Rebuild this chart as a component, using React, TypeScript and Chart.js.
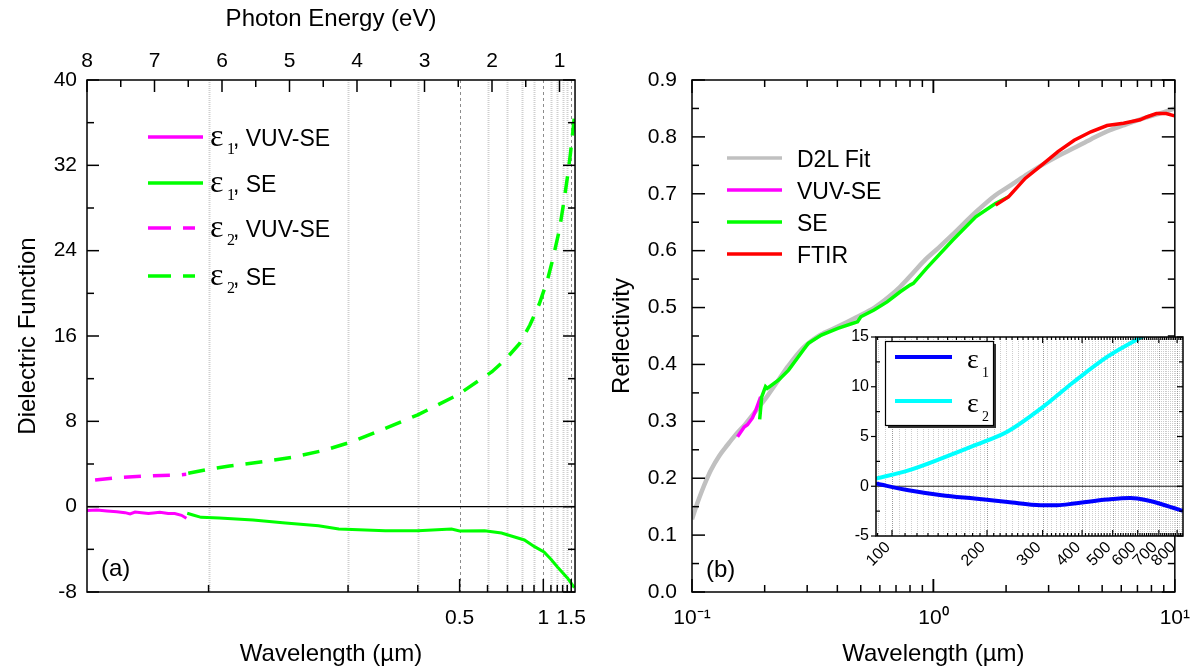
import React, { useEffect, useRef } from "react";
import { Chart, registerables } from "chart.js";

Chart.register(...registerables);
Chart.defaults.font.family = '"Liberation Sans", Arial, sans-serif';
Chart.defaults.color = "#000";

const HC = 1.2398; // eV * µm

// ---------- Panel (a): photon energy (eV) vs dielectric function ----------
const E_MIN = 0.77;
const E_MAX = 8;
const e1VuvEnergy = [8.0, 7.853, 7.705, 7.558, 7.436, 7.362, 7.288, 7.19, 7.09, 7.018, 6.92, 6.797, 6.7, 6.6, 6.527];
const e1VuvValue = [-0.37, -0.31, -0.4, -0.47, -0.56, -0.68, -0.5, -0.56, -0.65, -0.59, -0.53, -0.65, -0.65, -0.81, -1.09];
const e1SeEnergy = [6.515, 6.43, 6.31, 6.04, 5.54, 5.06, 4.57, 4.27, 4.07, 3.58, 3.1, 2.6, 2.48, 2.11, 1.86, 1.52, 1.37, 1.23, 1.13, 1.03, 0.88, 0.78];
const e1SeValue = [-0.62, -0.78, -1.0, -1.06, -1.25, -1.53, -1.78, -2.09, -2.15, -2.25, -2.25, -2.09, -2.28, -2.25, -2.47, -3.12, -3.75, -4.25, -4.9, -5.65, -6.7, -7.6];
const e2VuvEnergy = [7.88, 7.51, 7.02, 6.63, 6.53];
const e2VuvValue = [2.5, 2.75, 2.91, 2.97, 3.03];
const e2SeEnergy = [6.5, 6.2, 5.89, 5.39, 4.95, 4.47, 4.07, 3.58, 3.1, 2.51, 2.2, 2.0, 1.8, 1.59, 1.44, 1.3, 1.18, 1.1, 1.0, 0.93, 0.88, 0.84, 0.8, 0.77];
const e2SeValue = [3.13, 3.5, 3.81, 4.22, 4.63, 5.31, 6.09, 7.35, 8.6, 10.47, 11.8, 12.65, 13.8, 15.3, 17.0, 19.0, 21.2, 23.2, 26.0, 28.8, 31.0, 33.0, 35.3, 37.2];

const EV_TICKS = [1, 2, 3, 4, 5, 6, 7, 8];
const EPS_TICKS = [-8, 0, 8, 16, 24, 32, 40];
const WL_GRID = [0.2, 0.3, 0.4, 0.5, 0.6, 0.7, 0.8, 0.9, 1.0, 1.1, 1.2, 1.3, 1.4, 1.5];
const WL_LABELED = [0.5, 1.0, 1.5];
const WL_LABEL_TEXT = ["0.5", "1", "1.5"];

// ---------- Panel (b): wavelength (µm) vs reflectivity ----------
const fitWl = [0.1, 0.105, 0.11, 0.115, 0.12, 0.13, 0.14, 0.15, 0.167, 0.19, 0.2, 0.23, 0.25, 0.29, 0.34, 0.4, 0.48, 0.57, 0.65, 0.73, 0.82, 0.93, 1.05, 1.2, 1.5, 1.8, 2.04, 2.4, 2.8, 3.3, 3.8, 4.5, 5.2, 6.1, 7.1, 8.5, 10];
const fitR = [0.128, 0.155, 0.178, 0.198, 0.215, 0.24, 0.258, 0.274, 0.296, 0.326, 0.338, 0.375, 0.397, 0.43, 0.452, 0.466, 0.483, 0.5, 0.518, 0.537, 0.56, 0.585, 0.605, 0.628, 0.668, 0.697, 0.712, 0.732, 0.75, 0.767, 0.78, 0.796, 0.809, 0.82, 0.83, 0.84, 0.85];
const vuvWl = [0.1544, 0.1645, 0.1697, 0.178, 0.184, 0.1925];
const vuvR = [0.273, 0.29, 0.294, 0.306, 0.32, 0.343];
const seWl = [0.1907, 0.1944, 0.2016, 0.2048, 0.2287, 0.2512, 0.2892, 0.3031, 0.3435, 0.4018, 0.4851, 0.5003, 0.5674, 0.6431, 0.7287, 0.8, 0.8262, 0.936, 1.2036, 1.498, 1.807, 2.048];
const seR = [0.3035, 0.343, 0.361, 0.358, 0.3726, 0.39, 0.4253, 0.437, 0.4517, 0.4634, 0.475, 0.4838, 0.4956, 0.51, 0.5278, 0.5395, 0.5425, 0.569, 0.6186, 0.6596, 0.683, 0.6947];
const ftirWl = [1.81, 2.05, 2.4, 2.8, 3.28, 3.83, 4.49, 5.24, 6.13, 7.18, 7.64, 8.39, 9.21, 9.97];
const ftirR = [0.68, 0.695, 0.727, 0.75, 0.774, 0.794, 0.809, 0.82, 0.824, 0.83, 0.835, 0.841, 0.841, 0.837];
const R_TICKS = [0, 0.1, 0.2, 0.3, 0.4, 0.5, 0.6, 0.7, 0.8, 0.9];
const WL_DECADES = [0.1, 1, 10];
const WL_DECADE_LABELS = ["10\u207B\u00B9", "10\u2070", "10\u00B9"];

// ---------- Inset: dielectric function ----------
const insetE1X = [89, 112.8, 143.6, 182.6, 232.5, 296, 334, 377, 480, 569, 641, 835];
const insetE1Y = [0.27, -0.4, -0.9, -1.24, -1.58, -1.9, -1.9, -1.74, -1.34, -1.18, -1.41, -2.48];
const insetE2X = [89, 112.8, 143.6, 182.6, 232.5, 296, 377, 480, 617, 660];
const insetE2Y = [0.77, 1.6, 2.8, 4.1, 5.5, 7.8, 10.5, 13.0, 15.0, 15.5];
const INSET_X_TICKS = [100, 200, 300, 400, 500, 600, 700, 800];
const INSET_Y_TICKS = [-5, 0, 5, 10, 15];

function pts(xs: number[], ys: number[]) {
  return xs.map((x, i) => ({ x, y: ys[i] }));
}

function lineDs(xs: number[], ys: number[], color: string, width: number, extra: any = {}) {
  return {
    data: pts(xs, ys),
    borderColor: color,
    backgroundColor: color,
    borderWidth: width,
    showLine: true,
    pointRadius: 0,
    pointHoverRadius: 0,
    fill: false,
    ...extra,
  };
}

function seg(ctx: CanvasRenderingContext2D, x1: number, y1: number, x2: number, y2: number) {
  ctx.beginPath();
  ctx.moveTo(x1, y1);
  ctx.lineTo(x2, y2);
  ctx.stroke();
}

const hiddenGrid = { display: false, drawTicks: false };

const panelAPlugin = {
  id: "panelA",
  beforeDatasetsDraw(chart: any) {
    const { ctx, chartArea: a } = chart;
    const xs = chart.scales.x;
    const ys = chart.scales.y;
    ctx.save();
    for (const wl of WL_GRID) {
      const px = Math.round(xs.getPixelForValue(HC / wl)) + 0.5;
      const strong = WL_LABELED.includes(wl);
      ctx.strokeStyle = strong ? "#8c8c8c" : "#cfcfcf";
      ctx.lineWidth = strong ? 1 : 2;
      ctx.setLineDash(strong ? [3, 3] : [1, 1]);
      seg(ctx, px, a.top, px, a.bottom);
    }
    ctx.setLineDash([]);
    ctx.strokeStyle = "#000";
    ctx.lineWidth = 1.2;
    const y0 = ys.getPixelForValue(0);
    seg(ctx, a.left, y0, a.right, y0);
    ctx.restore();
  },
  afterDatasetsDraw(chart: any) {
    const { ctx, chartArea: a } = chart;
    const xs = chart.scales.x;
    const ys = chart.scales.y;
    ctx.save();
    ctx.strokeStyle = "#000";
    ctx.lineWidth = 1.5;
    ctx.strokeRect(a.left, a.top, a.right - a.left, a.bottom - a.top);
    for (let v = -8; v <= 40; v += 4) {
      const py = ys.getPixelForValue(v);
      const L = v % 8 === 0 ? 12 : 7;
      seg(ctx, a.left, py, a.left + L, py);
      seg(ctx, a.right, py, a.right - L, py);
    }
    for (let e = 1; e <= 8; e += 0.5) {
      const px = xs.getPixelForValue(e);
      const L = Number.isInteger(e) ? 12 : 7;
      seg(ctx, px, a.top, px, a.top + L);
    }
    for (const wl of WL_GRID) {
      const px = xs.getPixelForValue(HC / wl);
      const L = WL_LABELED.includes(wl) ? 13 : 7;
      seg(ctx, px, a.bottom, px, a.bottom - L);
    }
    ctx.restore();
  },
};

const panelBPlugin = {
  id: "panelB",
  afterDatasetsDraw(chart: any) {
    const { ctx, chartArea: a } = chart;
    const xs = chart.scales.x;
    const ys = chart.scales.y;
    ctx.save();
    ctx.strokeStyle = "#000";
    ctx.lineWidth = 1.5;
    ctx.strokeRect(a.left, a.top, a.right - a.left, a.bottom - a.top);
    for (let i = 0; i <= 18; i++) {
      const py = ys.getPixelForValue(i * 0.05);
      const L = i % 2 === 0 ? 13 : 7;
      seg(ctx, a.left, py, a.left + L, py);
      seg(ctx, a.right, py, a.right - L, py);
    }
    for (const d of [0.1, 1]) {
      for (let k = 1; k <= 10; k++) {
        const px = xs.getPixelForValue(d * k);
        const L = k === 1 || k === 10 ? 13 : 7;
        seg(ctx, px, a.bottom, px, a.bottom - L);
        seg(ctx, px, a.top, px, a.top + L);
      }
    }
    ctx.restore();
  },
};

const insetPlugin = {
  id: "inset",
  beforeDatasetsDraw(chart: any) {
    const { ctx, chartArea: a } = chart;
    const xs = chart.scales.x;
    const ys = chart.scales.y;
    ctx.save();
    ctx.fillStyle = "#fff";
    ctx.fillRect(a.left, a.top, a.right - a.left, a.bottom - a.top);
    ctx.lineWidth = 1;
    ctx.setLineDash([1, 1]);
    for (let v = 90; v <= 835; v += v < 200 ? 5 : 10) {
      const px = Math.round(xs.getPixelForValue(v)) + 0.5;
      ctx.strokeStyle = v % 100 === 0 ? "#9a9a9a" : "#cdcdcd";
      seg(ctx, px, a.top, px, a.bottom);
    }
    ctx.setLineDash([]);
    ctx.strokeStyle = "#222";
    ctx.lineWidth = 1.2;
    const y0 = ys.getPixelForValue(0);
    seg(ctx, a.left, y0, a.right, y0);
    ctx.restore();
  },
  afterDatasetsDraw(chart: any) {
    const { ctx, chartArea: a } = chart;
    const xs = chart.scales.x;
    const ys = chart.scales.y;
    ctx.save();
    ctx.strokeStyle = "#000";
    ctx.lineWidth = 1.5;
    ctx.strokeRect(a.left, a.top, a.right - a.left, a.bottom - a.top);
    ctx.lineWidth = 1.2;
    for (let v = -5; v <= 15; v += 2.5) {
      const py = ys.getPixelForValue(v);
      if (v % 5 === 0) {
        seg(ctx, a.left - 5, py, a.left, py);
        seg(ctx, a.right, py, a.right - 6, py);
      } else {
        seg(ctx, a.left, py, a.left + 4, py);
        seg(ctx, a.right, py, a.right - 4, py);
      }
    }
    for (let v = 90; v <= 830; v += 10) {
      const px = xs.getPixelForValue(v);
      const L = v % 100 === 0 ? 6 : 3;
      seg(ctx, px, a.bottom, px, a.bottom - L);
      seg(ctx, px, a.top, px, a.top + L);
    }
    ctx.restore();
  },
};

export default function App() {
  const leftRef = useRef<HTMLCanvasElement | null>(null);
  const rightRef = useRef<HTMLCanvasElement | null>(null);
  const insetRef = useRef<HTMLCanvasElement | null>(null);

  useEffect(() => {
    document.body.style.margin = "0";
    const charts: Chart[] = [];

    charts.push(
      new Chart(leftRef.current as HTMLCanvasElement, {
        type: "scatter",
        data: {
          datasets: [
            lineDs(e1VuvEnergy, e1VuvValue, "#ff00ff", 3),
            lineDs(e1SeEnergy, e1SeValue, "#00ff00", 3),
            lineDs(e2VuvEnergy, e2VuvValue, "#ff00ff", 3.5, { borderDash: [17, 12] }),
            lineDs(e2SeEnergy, e2SeValue, "#00ff00", 3.5, { borderDash: [17, 12] }),
          ],
        } as any,
        options: {
          responsive: false,
          animation: false,
          events: [],
          layout: { padding: { left: 0, right: 21, top: 0, bottom: 0 } },
          plugins: { legend: { display: false }, tooltip: { enabled: false } },
          scales: {
            x: {
              type: "linear",
              position: "bottom",
              reverse: true,
              min: E_MIN,
              max: E_MAX,
              grid: hiddenGrid,
              border: { display: false },
              afterBuildTicks: (s: any) => {
                s.ticks = WL_LABELED.map((wl) => ({ value: HC / wl }));
              },
              afterFit: (s: any) => {
                s.height = 79;
              },
              ticks: {
                autoSkip: false,
                maxRotation: 0,
                padding: 14,
                font: { size: 21 },
                callback: (_v: any, i: number) => WL_LABEL_TEXT[i],
              },
              title: {
                display: true,
                text: "Wavelength (µm)",
                font: { size: 24 },
                padding: { top: 0, bottom: 2 },
              },
            },
            xTop: {
              type: "linear",
              position: "top",
              reverse: true,
              min: E_MIN,
              max: E_MAX,
              grid: hiddenGrid,
              border: { display: false },
              afterBuildTicks: (s: any) => {
                s.ticks = EV_TICKS.map((v) => ({ value: v }));
              },
              afterFit: (s: any) => {
                s.height = 80;
              },
              ticks: {
                autoSkip: false,
                maxRotation: 0,
                padding: 6,
                font: { size: 21 },
                callback: (v: any) => String(v),
              },
              title: {
                display: true,
                text: "Photon Energy (eV)",
                font: { size: 24 },
                padding: { top: 5, bottom: 0 },
              },
            },
            y: {
              type: "linear",
              position: "left",
              min: -8,
              max: 40,
              grid: hiddenGrid,
              border: { display: false },
              afterBuildTicks: (s: any) => {
                s.ticks = EPS_TICKS.map((v) => ({ value: v }));
              },
              afterFit: (s: any) => {
                s.width = 87;
              },
              ticks: { padding: 10, font: { size: 21 }, callback: (v: any) => String(v) },
              title: {
                display: true,
                text: "Dielectric Function",
                font: { size: 24 },
                padding: { top: 14, bottom: 0 },
              },
            },
          },
        } as any,
        plugins: [panelAPlugin as any],
      })
    );

    charts.push(
      new Chart(rightRef.current as HTMLCanvasElement, {
        type: "scatter",
        data: {
          datasets: [
            lineDs(fitWl, fitR, "#c0c0c0", 4.5, { order: 10, cubicInterpolationMode: "monotone" }),
            lineDs(vuvWl, vuvR, "#ff00ff", 3.5, { order: 3 }),
            lineDs(seWl, seR, "#00ff00", 3.5, { order: 2 }),
            lineDs(ftirWl, ftirR, "#ff0000", 3.5, { order: 1 }),
          ],
        } as any,
        options: {
          responsive: false,
          animation: false,
          events: [],
          layout: { padding: { left: 0, right: 21, top: 80, bottom: 0 } },
          plugins: { legend: { display: false }, tooltip: { enabled: false } },
          scales: {
            x: {
              type: "logarithmic",
              position: "bottom",
              min: 0.1,
              max: 10,
              grid: hiddenGrid,
              border: { display: false },
              afterBuildTicks: (s: any) => {
                s.ticks = WL_DECADES.map((v) => ({ value: v }));
              },
              afterFit: (s: any) => {
                s.height = 79;
              },
              ticks: {
                autoSkip: false,
                maxRotation: 0,
                padding: 14,
                font: { size: 21 },
                callback: (_v: any, i: number) => WL_DECADE_LABELS[i],
              },
              title: {
                display: true,
                text: "Wavelength (µm)",
                font: { size: 24 },
                padding: { top: 0, bottom: 2 },
              },
            },
            y: {
              type: "linear",
              position: "left",
              min: 0,
              max: 0.9,
              grid: hiddenGrid,
              border: { display: false },
              afterBuildTicks: (s: any) => {
                s.ticks = R_TICKS.map((v) => ({ value: v }));
              },
              afterFit: (s: any) => {
                s.width = 92;
              },
              ticks: { padding: 15, font: { size: 21 }, callback: (v: any) => Number(v).toFixed(1) },
              title: {
                display: true,
                text: "Reflectivity",
                font: { size: 24 },
                padding: { top: 8, bottom: 0 },
              },
            },
          },
        } as any,
        plugins: [panelBPlugin as any],
      })
    );

    charts.push(
      new Chart(insetRef.current as HTMLCanvasElement, {
        type: "scatter",
        data: {
          datasets: [
            lineDs(insetE1X, insetE1Y, "#0000ff", 4, { cubicInterpolationMode: "monotone" }),
            lineDs(insetE2X, insetE2Y, "#00ffff", 4, { cubicInterpolationMode: "monotone" }),
          ],
        } as any,
        options: {
          responsive: false,
          animation: false,
          events: [],
          layout: { padding: { left: 0, right: 21, top: 17, bottom: 0 } },
          plugins: { legend: { display: false }, tooltip: { enabled: false } },
          scales: {
            x: {
              type: "logarithmic",
              position: "bottom",
              min: 89,
              max: 835,
              grid: hiddenGrid,
              border: { display: false },
              afterBuildTicks: (s: any) => {
                s.ticks = INSET_X_TICKS.map((v) => ({ value: v }));
              },
              afterFit: (s: any) => {
                s.height = 49;
              },
              ticks: {
                autoSkip: false,
                minRotation: 45,
                maxRotation: 45,
                padding: 2,
                labelOffset: -4,
                font: { size: 16 },
                callback: (_v: any, i: number) => String(INSET_X_TICKS[i]),
              },
            },
            y: {
              type: "linear",
              position: "left",
              min: -5,
              max: 15,
              grid: hiddenGrid,
              border: { display: false },
              afterBuildTicks: (s: any) => {
                s.ticks = INSET_Y_TICKS.map((v) => ({ value: v }));
              },
              afterFit: (s: any) => {
                s.width = 46;
              },
              ticks: { padding: 7, font: { size: 16 }, callback: (v: any) => String(v) },
            },
          },
        } as any,
        plugins: [insetPlugin as any],
      })
    );

    return () => {
      charts.forEach((c) => c.destroy());
    };
  }, []);

  const serif = '"Liberation Serif", "DejaVu Serif", serif';
  const sans = '"Liberation Sans", Arial, sans-serif';

  const legendA = [
    { y: 137, color: "#ff00ff", dash: false, sub: "1", rest: ", VUV-SE" },
    { y: 183, color: "#00ff00", dash: false, sub: "1", rest: ", SE" },
    { y: 228, color: "#ff00ff", dash: true, sub: "2", rest: ", VUV-SE" },
    { y: 276, color: "#00ff00", dash: true, sub: "2", rest: ", SE" },
  ];
  const legendB = [
    { y: 158, color: "#c0c0c0", text: "D2L Fit" },
    { y: 190, color: "#ff00ff", text: "VUV-SE" },
    { y: 222, color: "#00ff00", text: "SE" },
    { y: 254, color: "#ff0000", text: "FTIR" },
  ];
  const legendInset = [
    { y: 357, color: "#0000ff", sub: "1" },
    { y: 401, color: "#00ffff", sub: "2" },
  ];

  return (
    <div style={{ position: "relative", width: 1204, height: 671, background: "#fff", overflow: "hidden" }}>
      <canvas ref={leftRef} width={600} height={671} style={{ position: "absolute", left: 0, top: 0 }} />
      <canvas ref={rightRef} width={604} height={671} style={{ position: "absolute", left: 600, top: 0 }} />
      <canvas ref={insetRef} width={374} height={265} style={{ position: "absolute", left: 830, top: 320 }} />
      <svg width={1204} height={671} style={{ position: "absolute", left: 0, top: 0, pointerEvents: "none" }}>
        {legendA.map((r, i) => (
          <g key={"a" + i}>
            <line
              x1={148}
              x2={r.dash ? 195 : 203}
              y1={r.y}
              y2={r.y}
              stroke={r.color}
              strokeWidth={3.5}
              strokeDasharray={r.dash ? "23 12" : undefined}
            />
            <text x={210} y={r.y + 9} fontFamily={serif} fontSize={32} fill="#000">ε</text>
            <text x={227} y={r.y + 17} fontFamily={serif} fontSize={16} fill="#000">{r.sub}</text>
            <text x={233} y={r.y + 9} fontFamily={sans} fontSize={23} fill="#000">{r.rest}</text>
          </g>
        ))}
        <text x={101} y={576} fontFamily={sans} fontSize={24} fill="#000">(a)</text>

        {legendB.map((r, i) => (
          <g key={"b" + i}>
            <line x1={727} x2={782} y1={r.y} y2={r.y} stroke={r.color} strokeWidth={3.5} />
            <text x={797} y={r.y + 9} fontFamily={sans} fontSize={23} fill="#000">{r.text}</text>
          </g>
        ))}
        <text x={706} y={577} fontFamily={sans} fontSize={24} fill="#000">(b)</text>

        <rect x={888} y={344} width={108} height={84} fill="#333" />
        <rect x={885.5} y={341.5} width={108} height={84} fill="#fff" stroke="#000" strokeWidth={1.2} />
        {legendInset.map((r, i) => (
          <g key={"i" + i}>
            <line x1={895} x2={952} y1={r.y} y2={r.y} stroke={r.color} strokeWidth={4} />
            <text x={967} y={r.y + 11} fontFamily={serif} fontSize={28} fill="#000">ε</text>
            <text x={982} y={r.y + 20} fontFamily={serif} fontSize={14} fill="#000">{r.sub}</text>
          </g>
        ))}
      </svg>
    </div>
  );
}
